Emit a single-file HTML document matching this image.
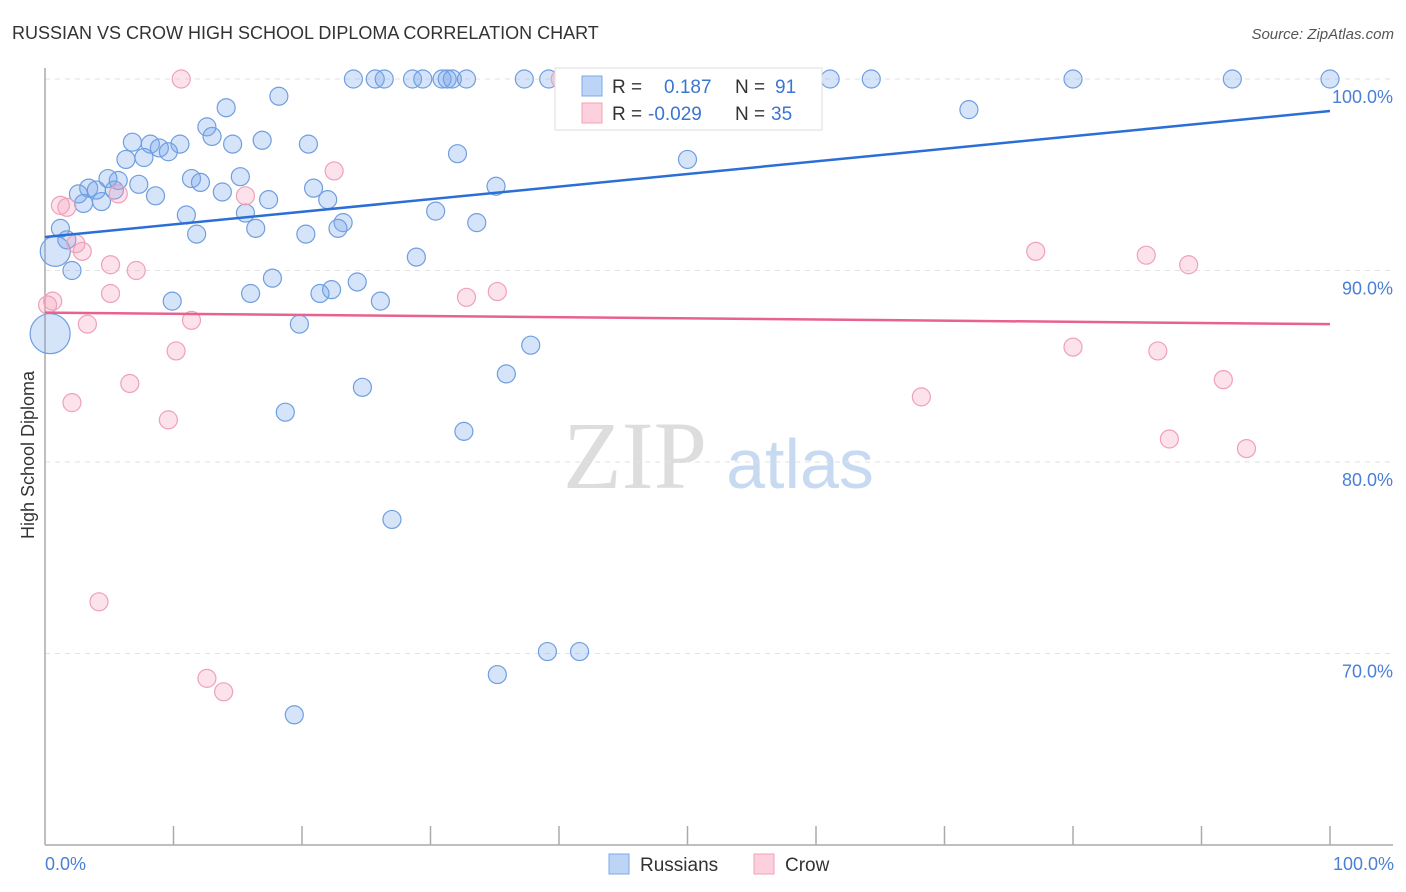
<!DOCTYPE html>
<html><head><meta charset="utf-8"><style>
body{margin:0;background:#fff;font-family:"Liberation Sans",sans-serif}
svg{display:block}
</style></head><body>
<svg id="chart" width="1406" height="892" viewBox="0 0 1406 892">
<text x="12" y="39" font-size="18" fill="#333">RUSSIAN VS CROW HIGH SCHOOL DIPLOMA CORRELATION CHART</text>
<text x="1394" y="39" font-size="15" fill="#555" font-style="italic" text-anchor="end">Source: ZipAtlas.com</text>
<g><text x="635" y="488" font-family="Liberation Serif,serif" font-size="96" fill="#ddd" text-anchor="middle">ZIP</text><text x="800" y="488" font-size="70" fill="#c8daf2" text-anchor="middle">atlas</text></g>
<g id="grid"></g>
<g id="axes"></g>
<g id="pts"></g>
<g id="trend"></g>
<text transform="translate(34,455) rotate(-90)" font-size="18" fill="#333" text-anchor="middle">High School Diploma</text>
<text x="45" y="870" font-size="18" fill="#4a7fd6">0.0%</text>
<text x="1394" y="870" font-size="18" fill="#4a7fd6" text-anchor="end">100.0%</text>
<g>
<rect x="555" y="68" width="267" height="62" fill="#fff" stroke="#ddd"/>
<rect x="582" y="76" width="20" height="20" fill="#bcd4f5" stroke="#7fa8e6"/>
<rect x="582" y="103" width="20" height="20" fill="#fcd0dc" stroke="#f0a0b8"/>
<text x="612" y="93" font-size="19" fill="#333">R = <tspan fill="#3a75d0" x="664">0.187</tspan><tspan x="735" fill="#333">N = </tspan><tspan fill="#3a75d0" x="775">91</tspan></text>
<text x="612" y="120" font-size="19" fill="#333">R = <tspan fill="#3a75d0" x="648">-0.029</tspan><tspan x="735" fill="#333">N = </tspan><tspan fill="#3a75d0" x="771">35</tspan></text>
</g>
<g>
<rect x="609" y="854" width="20" height="20" fill="#bcd4f5" stroke="#7fa8e6"/>
<text x="640" y="871" font-size="19" fill="#333">Russians</text>
<rect x="754" y="854" width="20" height="20" fill="#fcd0dc" stroke="#f0a0b8"/>
<text x="785" y="871" font-size="19" fill="#333">Crow</text>
</g>
</svg>
<script>
const yTicks=[100,90,80,70];
const yTickLabels=["100.0%","90.0%","80.0%","70.0%"];
const xTicks=[0,10,20,30,40,50,60,70,80,90,100];
const rusX=[24.0,25.7,26.4,28.6,29.4,30.9,31.3,31.7,32.8,37.3,39.2,47.1,52.4,54.6,59.4,61.1,64.3,80.0,92.4,100,18.2,14.1,71.9,12.6,13.0,6.8,8.2,10.5,14.6,16.9,20.5,8.9,9.6,7.7,6.3,32.1,50.0,4.9,5.7,11.4,15.2,7.3,12.1,3.4,4.0,2.6,5.4,8.6,13.8,20.9,35.1,3.0,4.4,17.4,22.0,15.6,11.0,30.4,23.2,33.6,16.4,22.8,11.8,20.3,1.2,1.7,0.8,28.9,2.1,17.7,24.3,22.3,16.0,21.4,9.9,26.1,19.8,0.4,37.8,35.9,24.7,18.7,32.6,27.0,39.1,41.6,35.2,19.4];
const rusY=[100,100,100,100,100,100,100,100,100,100,100,100,100,100,100,100,100,100,100,100,99.1,98.5,98.4,97.5,97.0,96.7,96.6,96.6,96.6,96.8,96.6,96.4,96.2,95.9,95.8,96.1,95.8,94.8,94.7,94.8,94.9,94.5,94.6,94.3,94.2,94.0,94.2,93.9,94.1,94.3,94.4,93.5,93.6,93.7,93.7,93.0,92.9,93.1,92.5,92.5,92.2,92.2,91.9,91.9,92.2,91.6,91.0,90.7,90.0,89.6,89.4,89.0,88.8,88.8,88.4,88.4,87.2,86.7,86.1,84.6,83.9,82.6,81.6,77.0,70.1,70.1,68.9,66.8];
const rusSize=rusX.map((_,i)=>i===66?15:(i===77?20:9));
const crowX=[10.6,40.1,56.8,22.5,5.7,15.6,1.2,1.7,2.4,2.9,5.1,7.1,77.1,85.7,89.0,0.6,0.2,5.1,32.8,35.2,11.4,3.3,10.2,80.0,86.6,6.6,2.1,91.7,68.2,9.6,87.5,93.5,4.2,12.6,13.9];
const crowY=[100,100,100,95.2,94.0,93.9,93.4,93.3,91.4,91.0,90.3,90.0,91.0,90.8,90.3,88.4,88.2,88.8,88.6,88.9,87.4,87.2,85.8,86.0,85.8,84.1,83.1,84.3,83.4,82.2,81.2,80.7,72.7,68.7,68.0];
const rusTrend=[91.75,98.33];
const crowTrend=[87.8,87.2];
const NS="http://www.w3.org/2000/svg";
const sx=v=>45+v*12.85, sy=v=>79+(100-v)*19.15;
function mk(t,a,p){const e=document.createElementNS(NS,t);for(const k in a)e.setAttribute(k,a[k]);p.appendChild(e);return e;}
const grid=document.getElementById('grid'),axes=document.getElementById('axes'),pts=document.getElementById('pts'),tr=document.getElementById('trend');
yTicks.forEach((v,i)=>{
 const l=mk('line',{x1:45,x2:1393,y1:sy(v),y2:sy(v),stroke:'#e2e2e2','stroke-dasharray':'5,5'},grid);
 
 
 const t=mk('text',{x:1393,y:sy(v)+24,'font-size':18,fill:'#4a7fd6','text-anchor':'end'},grid);
 t.textContent=yTickLabels[i];
 
 
});
const ya=mk('line',{x1:45,x2:45,y1:68,y2:845,stroke:'#aaa','stroke-width':1.5},axes);


const xa=mk('line',{x1:45,x2:1393,y1:845,y2:845,stroke:'#aaa','stroke-width':1.5},axes);


xTicks.slice(1).forEach(v=>{
 const t=mk('line',{x1:sx(v),x2:sx(v),y1:826,y2:845,stroke:'#aaa','stroke-width':1.5},axes);
 
 
});
rusX.forEach((x,i)=>{
 const c=mk('circle',{cx:sx(x),cy:sy(rusY[i]),r:rusSize[i],fill:'rgba(120,165,235,0.3)',stroke:'#6f9ee0','stroke-width':1.2},pts);
 
 
});
crowX.forEach((x,i)=>{
 const c=mk('circle',{cx:sx(x),cy:sy(crowY[i]),r:9,fill:'rgba(245,160,185,0.3)',stroke:'#f0a0b8','stroke-width':1.2},pts);
 
 
});
const bl=mk('line',{x1:sx(0),x2:sx(100),y1:sy(rusTrend[0]),y2:sy(rusTrend[1]),stroke:'#2b6fd6','stroke-width':2.5},tr);


const pl=mk('line',{x1:sx(0),x2:sx(100),y1:sy(crowTrend[0]),y2:sy(crowTrend[1]),stroke:'#e8628e','stroke-width':2.5},tr);


</script>
</body></html>
